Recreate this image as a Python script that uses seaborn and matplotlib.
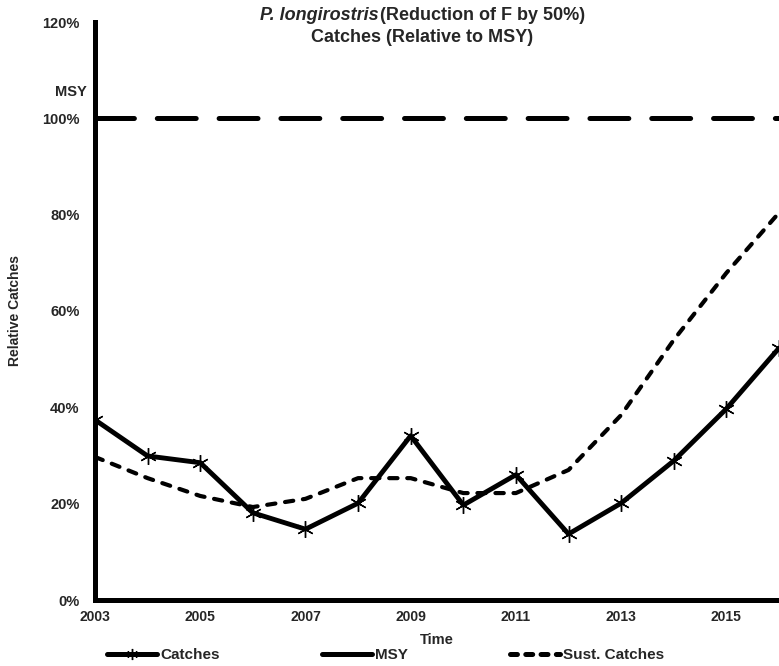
import matplotlib
matplotlib.use("Agg")
import matplotlib.pyplot as plt
from matplotlib.lines import Line2D
import seaborn as sns
import pandas as pd

# Series (percent of MSY)
years = list(range(2003, 2017))
catches = [37.4, 29.9, 28.5, 18.1, 14.7, 20.1, 34.1, 19.7, 26.0, 13.7, 20.1, 28.9, 39.7, 52.3]
msy = [100] * len(years)
sust_catches = [29.7, 25.3, 21.6, 19.3, 21.0, 25.3, 25.3, 22.2, 22.2, 27.0, 38.4, 54.0, 67.9, 80.4]
xticks = [2003, 2005, 2007, 2009, 2011, 2013, 2015]
yticks = [0, 20, 40, 60, 80, 100, 120]

sns.set_theme(style="white")
plt.rcParams["font.family"] = ["Liberation Sans", "DejaVu Sans"]
plt.rcParams["font.weight"] = "bold"
plt.rcParams["lines.scale_dashes"] = False

df = pd.DataFrame({"year": years, "Catches": catches, "MSY": msy, "Sust. Catches": sust_catches})

W, H = 779, 666
fig = plt.figure(figsize=(W / 100, H / 100), dpi=100)
ax = fig.add_axes([95 / W, (H - 600) / H, 1 - 95 / W, (600 - 22) / H])

sns.lineplot(data=df, x="year", y="MSY", ax=ax, color="black", lw=3.6)
sns.lineplot(data=df, x="year", y="Sust. Catches", ax=ax, color="black", lw=3.0)
sns.lineplot(data=df, x="year", y="Catches", ax=ax, color="black", lw=3.5,
             marker=(6, 2, 0), markersize=12, markeredgewidth=1.0,
             markeredgecolor="black")

l_msy, l_sust, l_catch = ax.lines[:3]
l_msy.set_dashes((28, 16.5))
l_msy.set_dash_capstyle("round")
l_sust.set_dashes((6, 7))
l_sust.set_dash_capstyle("round")

ax.set_xlim(2003, 2016)
ax.set_ylim(0, 120)
ax.set_xticks(xticks)
ax.set_xticklabels([str(x) for x in xticks], fontsize=10, fontweight="bold")
ax.set_yticks(yticks)
ax.set_yticklabels([f"{y}%" for y in yticks], fontsize=10.5, fontweight="bold")
ax.tick_params(axis="both", direction="out", length=3, width=3, color="black")
ax.tick_params(axis="x", pad=4)
ax.tick_params(axis="y", pad=8)

for side in ("top", "right"):
    ax.spines[side].set_visible(False)
for side in ("left", "bottom"):
    ax.spines[side].set_linewidth(3.6)
    ax.spines[side].set_color("black")

ax.set_xlabel("")
ax.set_ylabel("")
fig.text(437 / W, 1 - 640 / H, "Time", ha="center", va="center", fontsize=10.5, fontweight="bold")
fig.text(15 / W, 1 - 311 / H, "Relative Catches", ha="center", va="center",
         rotation=90, fontsize=10, fontweight="bold")

ax.text(-0.012, 100 + 5.5, "MSY", transform=ax.get_yaxis_transform(),
        ha="right", va="center", fontsize=10.5, fontweight="bold")

# Two-line title: italic species name followed by the scenario
t_cx = 422 / W
fig.text(t_cx, 1 - 38 / H, "Catches (Relative to MSY)", ha="center", va="center",
         fontsize=13, fontweight="bold")
t_sp = fig.text(0, 1 - 16 / H, "P. longirostris", ha="left", va="center",
                fontsize=13, fontweight="bold", style="italic")
t_sc = fig.text(0, 1 - 16 / H, "(Reduction of F by 50%)", ha="left", va="center",
                fontsize=13, fontweight="bold")
fig.canvas.draw()
r = fig.canvas.get_renderer()
w_sp = t_sp.get_window_extent(r).width
w_sc = t_sc.get_window_extent(r).width
x0 = t_cx * W - (w_sp + w_sc) / 2
t_sp.set_x(x0 / W)
t_sc.set_x((x0 + w_sp + 1) / W)

handles = [
    Line2D([], [], color="black", lw=3.6, marker=(6, 2, 0), markersize=8, markeredgewidth=1.0),
    Line2D([], [], color="black", lw=3.6),
    Line2D([], [], color="black", lw=3.6, dashes=(5, 6), dash_capstyle="round"),
]
fig.legend(handles, ["Catches", "MSY", "Sust. Catches"], loc="center left",
           bbox_to_anchor=(107 / W, 1 - 655 / H), ncol=3, frameon=False,
           handlelength=3.3, handletextpad=0.2, columnspacing=6.65,
           borderpad=0, borderaxespad=0,
           prop={"weight": "bold", "size": 11})

fig.savefig("out.png", dpi=100)
